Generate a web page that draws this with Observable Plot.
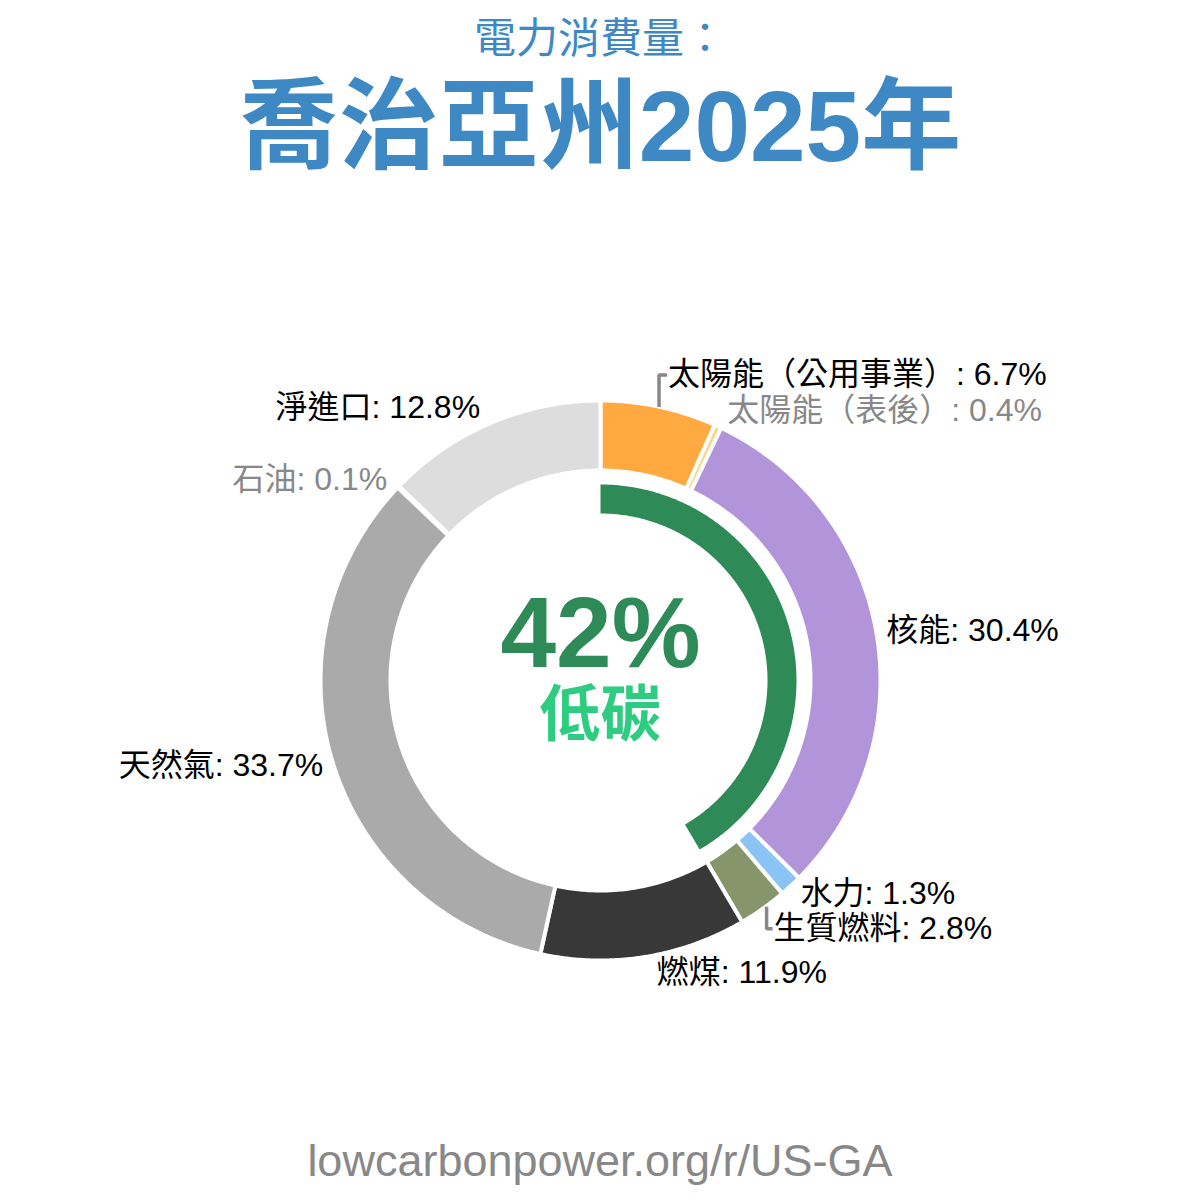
<!DOCTYPE html>
<html>
<head>
<meta charset="utf-8">
<script src="https://cdn.jsdelivr.net/npm/d3@7"></script>
<script src="https://cdn.jsdelivr.net/npm/@observablehq/plot@0.6"></script>
<style>
  html, body { margin: 0; padding: 0; background: #fff; }
  body { width: 1200px; height: 1200px; position: relative; overflow: hidden;
         font-family: "Liberation Sans", "Noto Sans CJK TC", sans-serif; }
  #chart { position: absolute; left: 0; top: 0; }
  .t { position: absolute; left: 0; width: 1200px; text-align: center; line-height: 1; white-space: nowrap; }
  #sub { top: 18px; font-size: 42px; color: #3E88C4; }
  #title { top: 76px; font-size: 100px; font-weight: bold; color: #3E88C4; }
  #foot { top: 1138px; font-size: 45px; color: #888888; }
</style>
</head>
<body>
<div id="chart"></div>
<div class="t" id="sub">電力消費量：</div>
<div class="t" id="title">喬治亞州2025年</div>
<div class="t" id="foot">lowcarbonpower.org/r/US-GA</div>
<script>
// ---- data ----
const names = ["太陽能（公用事業）", "太陽能（表後）", "核能", "水力", "生質燃料", "燃煤", "天然氣", "石油", "淨進口"];
const shares = [6.7, 0.4, 30.4, 1.3, 2.8, 11.9, 33.7, 0.1, 12.8];
const isLowCarbon = [true, true, true, true, true, false, false, false, false];
const colors = ["#FFA940", "#FFD37A", "#B294DB", "#89C4F4", "#87956A", "#383838", "#AAAAAA", "#888888", "#DDDDDD"];
const muted = [false, true, false, false, false, false, false, true, false];
// label nudges (px) to avoid collisions
const labelDx = [7, 5, 0, 3, 5, 11, 0, -4, -7];
const labelDy = [-22, -7, 0, 0, 12, 6, 0, 0, -6];
const bracket = [true, false, false, false, true, false, false, false, false];

// ---- geometry ----
const R_OUT = 280, R_IN = 210, R_LBL = 290;
const G_OUT = 196, G_IN = 167;
const total = d3.sum(shares);
const lowShare = d3.sum(shares.filter((s, i) => isLowCarbon[i])) / total;
const pol = (r, a) => [r * Math.sin(a), r * Math.cos(a)];

function ring(key, a0, a1, r0, r1) {
  const n = Math.max(2, Math.ceil((a1 - a0) / 0.01));
  const pts = [];
  for (let k = 0; k <= n; k++) { const a = a0 + (a1 - a0) * k / n; const [x, y] = pol(r1, a); pts.push({key, x, y}); }
  for (let k = n; k >= 0; k--) { const a = a0 + (a1 - a0) * k / n; const [x, y] = pol(r0, a); pts.push({key, x, y}); }
  return pts;
}

let cum = 0;
const slicePts = [];
const labels = [];
const brackets = [];
shares.forEach((s, i) => {
  const a0 = cum / total * 2 * Math.PI;
  cum += s;
  const a1 = cum / total * 2 * Math.PI;
  slicePts.push(...ring(names[i], a0, a1, R_IN, R_OUT));
  const am = (a0 + a1) / 2;
  const [bx, by] = pol(R_LBL, am);
  const lx = bx + labelDx[i], ly = by - labelDy[i];
  const right = Math.sin(am) >= 0;
  labels.push({text: `${names[i]}: ${s.toFixed(1)}%`, x: lx, y: ly, right, muted: muted[i]});
  if (bracket[i]) {
    const dir = Math.sign(ly - by);
    brackets.push({k: i, x: bx - 2, y: by - 10 * dir});
    brackets.push({k: i, x: bx - 2, y: ly});
    brackets.push({k: i, x: lx - 1, y: ly});
  }
});
const greenPts = ring("low", 0, lowShare * 2 * Math.PI, G_IN, G_OUT);

const font = '"Liberation Sans", "Noto Sans CJK TC", sans-serif';
const lblStyle = {fontSize: 32, lineAnchor: "middle", fontFamily: font};

const chart = Plot.plot({
  width: 1200,
  height: 1200,
  margin: 0,
  x: {domain: [-600, 600], axis: null},
  y: {domain: [-520, 680], axis: null},
  color: {domain: names, range: colors},
  style: {fontFamily: font, background: "transparent", overflow: "visible"},
  marks: [
    Plot.line(slicePts, {x: "x", y: "y", z: "key", fill: "key", stroke: "white", strokeWidth: 4, strokeLinejoin: "miter", curve: "linear-closed"}),
    Plot.line(greenPts, {x: "x", y: "y", z: "key", fill: "#2E8B57", stroke: "none", curve: "linear-closed"}),
    Plot.line(brackets, {x: "x", y: "y", z: "k", stroke: "#888888", strokeWidth: 3.5, strokeLinejoin: "miter", strokeLinecap: "butt"}),
    Plot.text(labels.filter(d => d.right && !d.muted), {x: "x", y: "y", text: "text", textAnchor: "start", fill: "#000", ...lblStyle}),
    Plot.text(labels.filter(d => d.right && d.muted), {x: "x", y: "y", text: "text", textAnchor: "start", fill: "#888", ...lblStyle}),
    Plot.text(labels.filter(d => !d.right && !d.muted), {x: "x", y: "y", text: "text", textAnchor: "end", fill: "#000", ...lblStyle}),
    Plot.text(labels.filter(d => !d.right && d.muted), {x: "x", y: "y", text: "text", textAnchor: "end", fill: "#888", ...lblStyle}),
    Plot.text([`${Math.round(lowShare * 100)}%`], {x: 0, y: 0, text: d => d, dy: -46, fontSize: 100, fontWeight: "bold", fill: "#2E8B57", lineAnchor: "middle", fontFamily: font}),
    Plot.text(["低碳"], {x: 0, y: 0, text: d => d, dy: 36, fontSize: 61, fontWeight: "bold", fill: "#2ECC80", lineAnchor: "middle", fontFamily: font})
  ]
});
document.getElementById("chart").appendChild(chart);
</script>
</body>
</html>
